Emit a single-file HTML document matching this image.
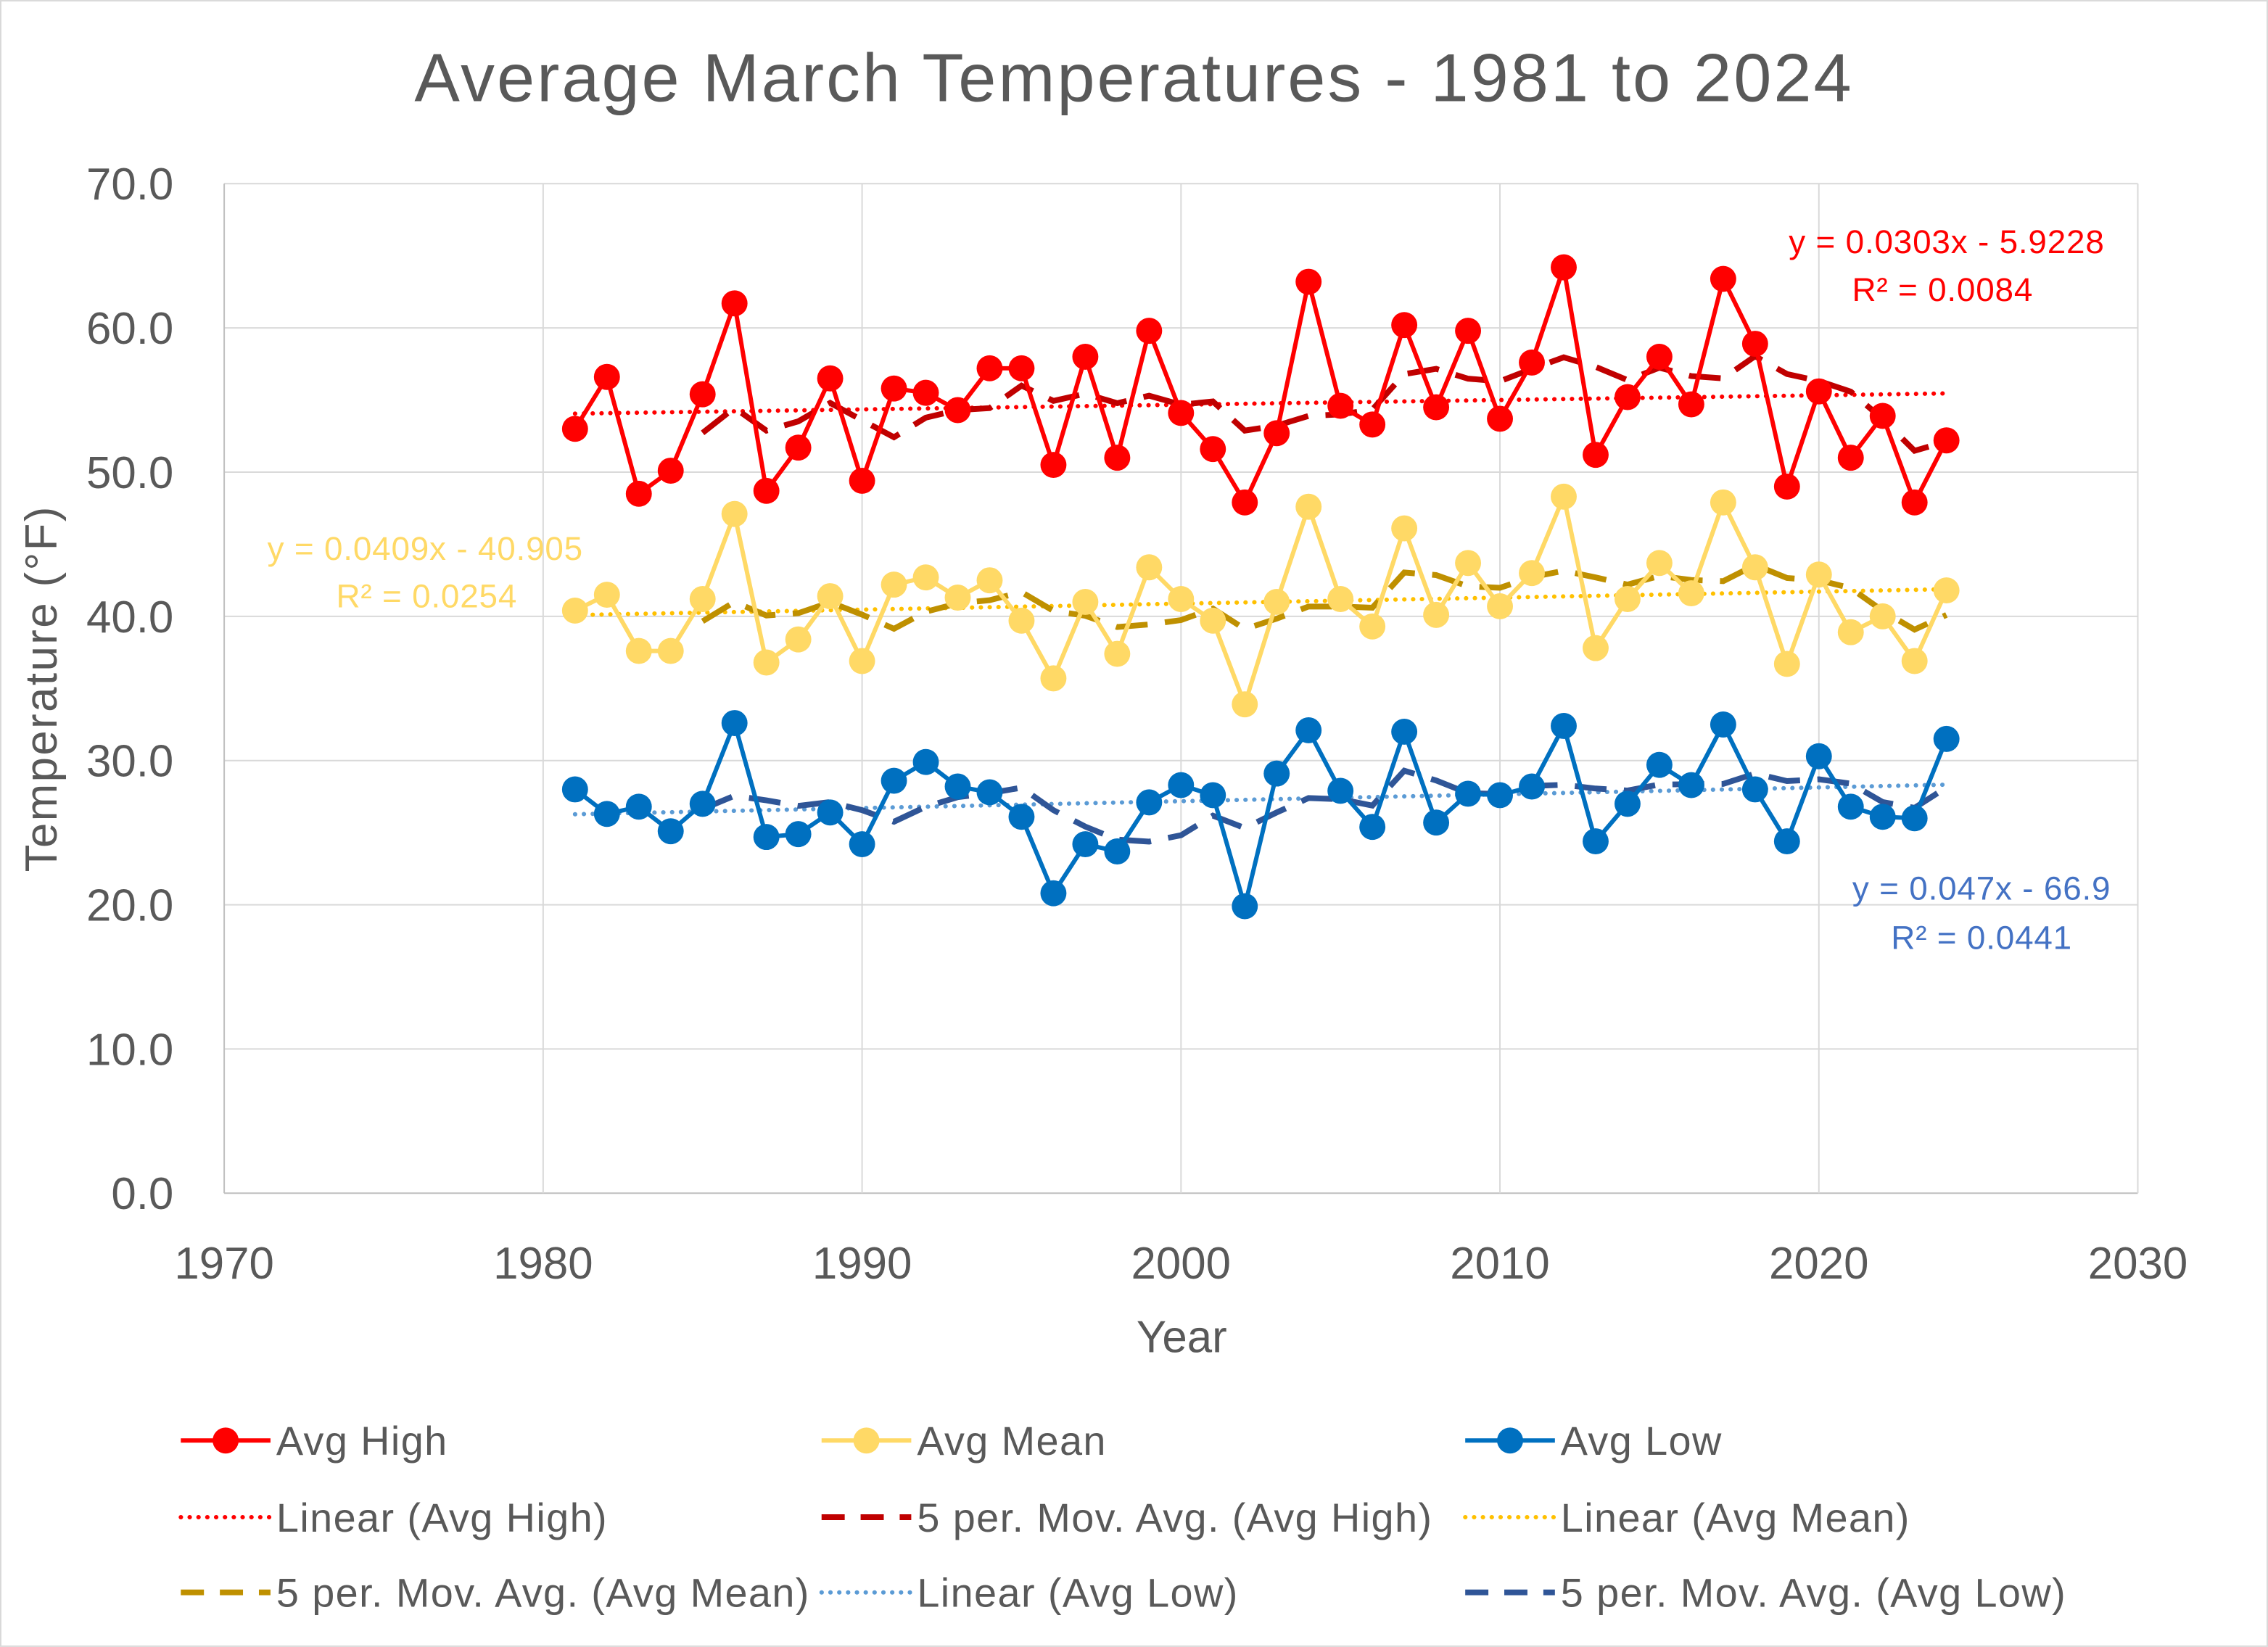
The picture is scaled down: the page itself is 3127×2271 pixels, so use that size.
<!DOCTYPE html>
<html><head><meta charset="utf-8"><style>
html,body{margin:0;padding:0;background:#fff}
svg{display:block}
text{font-family:"Liberation Sans",sans-serif}
</style></head><body>
<svg id="chart" width="3127" height="2271" viewBox="0 0 1568 1138.75" xmlns="http://www.w3.org/2000/svg">
<rect x="0.5" y="0.5" width="1567" height="1137.7" fill="#fff" stroke="#d9d9d9" stroke-width="1"/>
<text x="784" y="70" text-anchor="middle" font-size="47" letter-spacing="1.5" fill="#595959">Average March Temperatures - 1981 to 2024</text>
<g id="grid"></g>
<g id="ticks"></g>
<text x="817" y="935" text-anchor="middle" font-size="31" fill="#595959">Year</text>
<text transform="translate(39,476) rotate(-90)" text-anchor="middle" font-size="31" letter-spacing="1.2" fill="#595959">Temperature (°F)</text>
<g id="series"></g>
<text x="1455" y="175" text-anchor="end" font-size="23" letter-spacing="0.4" fill="#FF0000">y = 0.0303x - 5.9228</text>
<text x="1343" y="208" text-anchor="middle" font-size="23" letter-spacing="0.4" fill="#FF0000">R² = 0.0084</text>
<text x="294" y="387" text-anchor="middle" font-size="23" letter-spacing="0.4" fill="#FFD966">y = 0.0409x - 40.905</text>
<text x="295" y="420" text-anchor="middle" font-size="23" letter-spacing="0.4" fill="#FFD966">R² = 0.0254</text>
<text x="1370" y="622" text-anchor="middle" font-size="23" letter-spacing="0.4" fill="#4472C4">y = 0.047x - 66.9</text>
<text x="1370" y="656" text-anchor="middle" font-size="23" letter-spacing="0.4" fill="#4472C4">R² = 0.0441</text>
<g id="legend"></g>
</svg>
<script>
const years = [];
for (let y = 1981; y <= 2024; y++) years.push(y);
const avgHigh = [53.0,56.6,48.5,50.1,55.4,61.7,48.7,51.7,56.5,49.4,55.8,55.5,54.3,57.2,57.2,50.5,58.0,51.0,59.8,54.1,51.6,47.9,52.7,63.2,54.6,53.3,60.2,54.5,59.8,53.7,57.6,64.2,51.2,55.2,58.0,54.7,63.4,58.9,49.0,55.6,51.0,53.9,47.9,52.2];
const avgMean = [40.4,41.5,37.6,37.6,41.2,47.1,36.8,38.4,41.4,36.9,42.2,42.7,41.3,42.5,39.7,35.7,41.0,37.4,43.4,41.2,39.7,33.9,41.0,47.6,41.2,39.3,46.1,40.1,43.7,40.7,43.0,48.3,37.8,41.2,43.7,41.6,47.9,43.4,36.7,42.9,38.9,40.0,36.9,41.8];
const avgLow = [28.0,26.3,26.8,25.1,27.0,32.6,24.7,24.9,26.4,24.2,28.6,29.9,28.2,27.8,26.1,20.8,24.2,23.7,27.1,28.3,27.6,19.9,29.1,32.1,27.9,25.4,32.0,25.7,27.7,27.6,28.2,32.4,24.4,27.0,29.7,28.3,32.5,28.0,24.4,30.3,26.8,26.1,26.0,31.5];
const yTicks = [0,10,20,30,40,50,60,70];
const xTicks = [1970,1980,1990,2000,2010,2020,2030];

const NS = "http://www.w3.org/2000/svg";
const X0 = 155, X1 = 1478, Y0 = 825, Y1 = 127;
const xs = v => X0 + (v - 1970) / 60 * (X1 - X0);
const ys = v => Y0 - v / 70 * (Y0 - Y1);
function mk(tag, attrs, parent) {
  const e = document.createElementNS(NS, tag);
  for (const k in attrs) e.setAttribute(k, attrs[k]);
  parent.appendChild(e);
  return e;
}
const grid = document.getElementById('grid');
const ticks = document.getElementById('ticks');
yTicks.forEach(t => {
  const l = mk('line', {x1: X0, x2: X1, y1: ys(t), y2: ys(t), stroke: t === 0 ? '#bfbfbf' : '#d9d9d9', 'stroke-width': 1}, grid);
  
  
  const tx = mk('text', {x: 120, y: ys(t) + 11, 'text-anchor': 'end', 'font-size': 31, fill: '#595959'}, ticks);
  tx.textContent = t.toFixed(1);
  
  
});
xTicks.forEach(t => {
  const l = mk('line', {x1: xs(t), x2: xs(t), y1: Y1, y2: Y0, stroke: t === 1970 ? '#bfbfbf' : '#d9d9d9', 'stroke-width': 1}, grid);
  
  
  const tx = mk('text', {x: xs(t), y: 884, 'text-anchor': 'middle', 'font-size': 31, fill: '#595959'}, ticks);
  tx.textContent = t;
  
  
});

const series = document.getElementById('series');
function regress(vals) {
  const n = vals.length;
  let sx = 0, sy = 0, sxx = 0, sxy = 0;
  years.forEach((x, i) => { sx += x; sy += vals[i]; sxx += x * x; sxy += x * vals[i]; });
  const m = (n * sxy - sx * sy) / (n * sxx - sx * sx);
  return {m, b: (sy - m * sx) / n};
}
function path(pts) { return pts.map((p, i) => (i ? 'L' : 'M') + p[0].toFixed(2) + ' ' + p[1].toFixed(2)).join(' '); }
function addSeries(vals, name, col, maCol, linCol) {
  const r = regress(vals);
  const lin = mk('line', {x1: xs(years[0]), y1: ys(r.m * years[0] + r.b), x2: xs(years[years.length-1]), y2: ys(r.m * years[years.length-1] + r.b), stroke: linCol, 'stroke-width': 3, 'stroke-dasharray': '0.1 6', 'stroke-linecap': 'round'}, series);
  
  
  const ma = [];
  for (let i = 4; i < vals.length; i++) {
    const a = (vals[i] + vals[i-1] + vals[i-2] + vals[i-3] + vals[i-4]) / 5;
    ma.push([xs(years[i]), ys(a)]);
  }
  const mp = mk('path', {d: path(ma), fill: 'none', stroke: maCol, 'stroke-width': 4, 'stroke-dasharray': '22 12'}, series);
  
  
  const pts = vals.map((v, i) => [xs(years[i]), ys(v)]);
  const lp = mk('path', {d: path(pts), fill: 'none', stroke: col, 'stroke-width': 3, 'stroke-linejoin': 'round'}, series);
  
  
  pts.forEach(p => {
    const c = mk('circle', {cx: p[0], cy: p[1], r: 9, fill: col}, series);
    
    
  });
}
addSeries(avgHigh, 'avg-high', '#FF0000', '#C00000', '#FF0000');
addSeries(avgMean, 'avg-mean', '#FFD966', '#BF9000', '#FFC000');
addSeries(avgLow, 'avg-low', '#0070C0', '#2F5597', '#5B9BD5');

const legend = document.getElementById('legend');
const legendItems = [
  ['Avg High', '#FF0000', 'marker', 125, 996],
  ['Avg Mean', '#FFD966', 'marker', 568, 996],
  ['Avg Low', '#0070C0', 'marker', 1013, 996],
  ['Linear (Avg High)', '#FF0000', 'dot', 125, 1049],
  ['5 per. Mov. Avg. (Avg High)', '#C00000', 'dash', 568, 1049],
  ['Linear (Avg Mean)', '#FFC000', 'dot', 1013, 1049],
  ['5 per. Mov. Avg. (Avg Mean)', '#BF9000', 'dash', 125, 1101],
  ['Linear (Avg Low)', '#5B9BD5', 'dot', 568, 1101],
  ['5 per. Mov. Avg. (Avg Low)', '#2F5597', 'dash', 1013, 1101]
];
legendItems.forEach(it => {
  const [label, col, kind, x, y] = it;
  const g = mk('g', {}, legend);
  
  
  const attrs = {x1: x, x2: x + 62, y1: y, y2: y, stroke: col, 'stroke-width': kind === 'dash' ? 4 : 3};
  if (kind === 'dot') { attrs['stroke-dasharray'] = '0.1 6'; attrs['stroke-linecap'] = 'round'; }
  if (kind === 'dash') attrs['stroke-dasharray'] = '16 11';
  mk('line', attrs, g);
  if (kind === 'marker') mk('circle', {cx: x + 31, cy: y, r: 9, fill: col}, g);
  const t = mk('text', {x: x + 66, y: y + 10, 'font-size': 28, 'letter-spacing': 0.7, fill: '#595959'}, g);
  t.textContent = label;
});
</script>
</body></html>
